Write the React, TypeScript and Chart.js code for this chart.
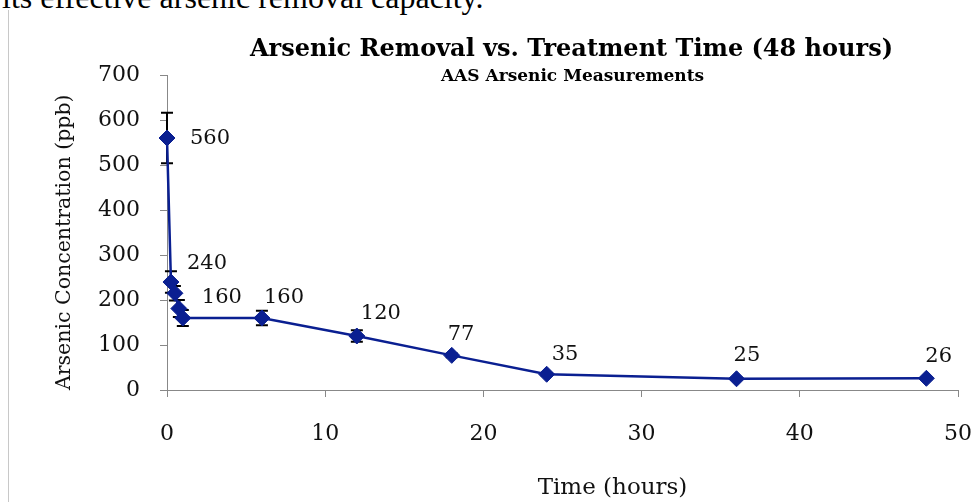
import React, { useEffect, useRef } from "react";
import { Chart, registerables } from "chart.js";

Chart.register(...registerables);

// ---- data ----
const timeHours = [0, 0.25, 0.5, 0.75, 1, 6, 12, 18, 24, 36, 48];
const arsenicPpb = [560, 240, 215, 181, 160, 160, 120, 77, 35, 25, 26];
const errorPpb = [56, 24, 16, 19, 18, 16, 13, 4, 3, 2, 2];
const pointLabels = ["560", "240", "", "", "160", "160", "120", "77", "35", "25", "26"];

const chartTitle = "Arsenic Removal vs. Treatment Time (48 hours)";
const chartSubtitle = "AAS Arsenic Measurements";
const xAxisTitle = "Time (hours)";
const yAxisTitle = "Arsenic Concentration (ppb)";
const pageTextAbove = "its effective arsenic removal capacity.";

// label placement (pixel offsets from the marker: left edge, vertical middle)
const labelDx = [23, 16, 0, 0, 19, 2, 4, -4, 5, -3, -1];
const labelDy = [1, -18, 0, 0, -20, -20, -22, -21, -20, -23, -22];

const BLUE = "#0a1f91";
const SERIF = "'DejaVu Serif', serif";
const AXIS = "#888888";
const TEXT = "#111111";

export default function App() {
  const ref = useRef<HTMLCanvasElement>(null);

  useEffect(() => {
    const canvas = ref.current;
    if (!canvas) return;

    const overlay = {
      id: "overlay",
      beforeDatasetsDraw(chart: any) {
        const { ctx } = chart;
        const xs = chart.scales.x;
        const ys = chart.scales.y;
        ctx.save();
        ctx.strokeStyle = "#000";
        ctx.lineWidth = 2;
        timeHours.forEach((t, i) => {
          const px = xs.getPixelForValue(t);
          const top = ys.getPixelForValue(arsenicPpb[i] + errorPpb[i]);
          const bot = ys.getPixelForValue(arsenicPpb[i] - errorPpb[i]);
          ctx.beginPath();
          ctx.moveTo(px, top);
          ctx.lineTo(px, bot);
          ctx.moveTo(px - 6, top);
          ctx.lineTo(px + 6, top);
          ctx.moveTo(px - 6, bot);
          ctx.lineTo(px + 6, bot);
          ctx.stroke();
        });
        ctx.restore();
      },
      afterDatasetsDraw(chart: any) {
        const { ctx, chartArea } = chart;
        const xs = chart.scales.x;
        const ys = chart.scales.y;
        ctx.save();
        ctx.fillStyle = TEXT;
        ctx.font = `21px ${SERIF}`;
        ctx.textAlign = "left";
        ctx.textBaseline = "middle";
        timeHours.forEach((t, i) => {
          if (!pointLabels[i]) return;
          const px = xs.getPixelForValue(t);
          const py = ys.getPixelForValue(arsenicPpb[i]);
          ctx.fillText(pointLabels[i], px + labelDx[i], py + labelDy[i]);
        });

        // titles
        const mid = (chartArea.left + chartArea.right) / 2;
        ctx.textAlign = "center";
        ctx.textBaseline = "alphabetic";
        ctx.fillStyle = "#000";
        ctx.font = `bold 24px ${SERIF}`;
        ctx.fillText(chartTitle, mid + 9, 56);
        ctx.font = `bold 17px ${SERIF}`;
        ctx.fillText(chartSubtitle, mid + 10, 81);

        // x axis title
        ctx.fillStyle = TEXT;
        ctx.font = `23px ${SERIF}`;
        ctx.fillText(xAxisTitle, mid + 50, 494);
        ctx.restore();
      },
    };

    const tickFont = { family: SERIF, size: 22 };

    const chart = new Chart(canvas, {
      type: "line",
      data: {
        datasets: [
          {
            data: timeHours.map((t, i) => ({ x: t, y: arsenicPpb[i] })),
            borderColor: BLUE,
            backgroundColor: BLUE,
            borderWidth: 2.5,
            pointStyle: "rectRot",
            pointRadius: 8,
            pointBorderWidth: 1,
            pointBackgroundColor: BLUE,
            pointBorderColor: BLUE,
            tension: 0,
            clip: false as any,
          },
        ],
      },
      options: {
        responsive: false,
        animation: false,
        devicePixelRatio: 1,
        layout: { padding: { left: 0, right: 17, top: 75, bottom: 0 } },
        plugins: {
          legend: { display: false },
          title: { display: false },
          tooltip: { enabled: false },
        },
        scales: {
          x: {
            type: "linear",
            min: 0,
            max: 50,
            ticks: { stepSize: 10, padding: 24, color: TEXT, font: tickFont, maxRotation: 0 },
            grid: { display: true, drawOnChartArea: false, drawTicks: true, tickLength: 7, color: AXIS },
            border: { display: true, color: AXIS, width: 1 },
            afterFit: (s: any) => {
              s.height = 112;
              s.paddingLeft = 0;
              s.paddingRight = 0;
            },
          },
          y: {
            type: "linear",
            min: 0,
            max: 700,
            ticks: { stepSize: 100, padding: 20, color: TEXT, font: tickFont },
            grid: { display: true, drawOnChartArea: false, drawTicks: true, tickLength: 7, color: AXIS },
            border: { display: true, color: AXIS, width: 1 },
            title: {
              display: true,
              text: yAxisTitle,
              color: TEXT,
              align: "start",
              font: { family: SERIF, size: 20.5 },
              padding: { top: 52, bottom: 0 },
            },
            afterFit: (s: any) => {
              s.width = 167;
              s.paddingTop = 0;
              s.paddingBottom = 0;
            },
          },
        },
      },
      plugins: [overlay],
    });

    return () => chart.destroy();
  }, []);

  return (
    <div
      style={{
        position: "fixed",
        left: 0,
        top: 0,
        width: 975,
        height: 502,
        overflow: "hidden",
        background: "#fff",
      }}
    >
      <div
        style={{
          position: "absolute",
          left: 2,
          top: -19,
          font: "32px 'Liberation Serif', serif",
          lineHeight: "32px",
          whiteSpace: "nowrap",
          color: "#000",
        }}
      >
        {pageTextAbove}
      </div>
      <div
        style={{
          position: "absolute",
          left: 8,
          top: 10,
          width: 1,
          height: 492,
          background: "#c8c8c8",
        }}
      />
      <canvas
        ref={ref}
        width={975}
        height={502}
        style={{ position: "absolute", left: 0, top: 0, width: 975, height: 502 }}
      />
    </div>
  );
}
